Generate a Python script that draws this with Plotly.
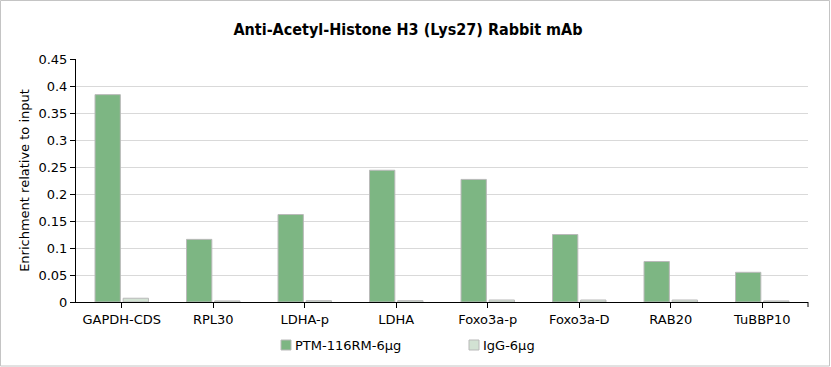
import plotly.graph_objects as go

categories = ["GAPDH-CDS", "RPL30", "LDHA-p", "LDHA", "Foxo3a-p", "Foxo3a-D", "RAB20", "TuBBP10"]
ptm_values = [0.384, 0.116, 0.162, 0.244, 0.227, 0.125, 0.075, 0.055]
igg_values = [0.007, 0.002, 0.0025, 0.0025, 0.0037, 0.0037, 0.0037, 0.002]
series_names = ["PTM-116RM-6μg", "IgG-6μg"]
series_colors = ["#7db683", "#d2e2d3"]
y_ticks = [0, 0.05, 0.1, 0.15, 0.2, 0.25, 0.3, 0.35, 0.4, 0.45]
title_text = "Anti-Acetyl-Histone H3 (Lys27) Rabbit mAb"
y_title = "Enrichment relative to input"

W, H = 831, 367
L, R, T, B = 76, 23, 59, 65

fig = go.Figure()
for name, vals, col in zip(series_names, [ptm_values, igg_values], series_colors):
    fig.add_trace(go.Bar(x=categories, y=vals, name=name, showlegend=False,
                         marker=dict(color=col, line=dict(color="#b9b9b9", width=1))))

pw = W - L - R
ph = H - T - B
def px_x(p):
    return (p - L) / pw
def px_y(p):
    return (H - B - p) / ph

shapes = [
    dict(type="rect", xref="paper", yref="paper",
         x0=px_x(0.5), x1=px_x(829.5), y0=px_y(0.5), y1=px_y(366),
         line=dict(color="#c4c4c4", width=1), fillcolor="rgba(0,0,0,0)", layer="below"),
    dict(type="line", xref="paper", yref="paper", x0=1, x1=1, y0=0, y1=px_y(H - B + 5),
         line=dict(color="#000", width=1)),
]
annotations = []
# custom legend (swatch + text)
legend_swatch_x = [281, 469]
legend_y = 345
for name, col, sx in zip(series_names, series_colors, legend_swatch_x):
    shapes.append(dict(type="rect", xref="paper", yref="paper",
                       x0=px_x(sx), x1=px_x(sx + 10), y0=px_y(legend_y - 5), y1=px_y(legend_y + 5),
                       line=dict(color="#b9b9b9", width=1), fillcolor=col))
    annotations.append(dict(text=name, xref="paper", yref="paper", x=px_x(sx + 12), y=px_y(legend_y),
                            xanchor="left", yanchor="middle", showarrow=False,
                            font=dict(size=13, color="#000")))

fig.update_layout(
    width=W, height=H,
    margin=dict(l=L, r=R, t=T, b=B),
    paper_bgcolor="white", plot_bgcolor="white",
    barmode="group", bargap=0.385, bargroupgap=0.1,
    font=dict(family="DejaVu Sans", size=13, color="#000"),
    title=dict(text="<b>" + title_text + "</b>", xref="container", x=408 / W, xanchor="center",
               yref="container", y=1 - 29 / H, yanchor="middle", automargin=False,
               font=dict(family="DejaVu Sans Condensed", size=16, color="#000")),
    showlegend=False,
    xaxis=dict(showline=True, linecolor="#000", linewidth=1, ticks="outside", ticklen=5,
               tickcolor="#000", showgrid=False, tickfont=dict(size=13), automargin=False),
    yaxis=dict(range=[0, 0.45], tickvals=y_ticks, showline=True, linecolor="#000", linewidth=1,
               ticks="outside", ticklen=5, tickcolor="#000", showgrid=True, gridcolor="#d9d9d9",
               zeroline=False, title=dict(text=y_title, standoff=5, font=dict(size=13)),
               tickfont=dict(size=13), automargin=False),
    shapes=shapes,
    annotations=annotations,
)

fig.write_html("out.html", config={"displayModeBar": False},
               post_script="document.body.style.margin='0';document.body.style.overflow='hidden';")
